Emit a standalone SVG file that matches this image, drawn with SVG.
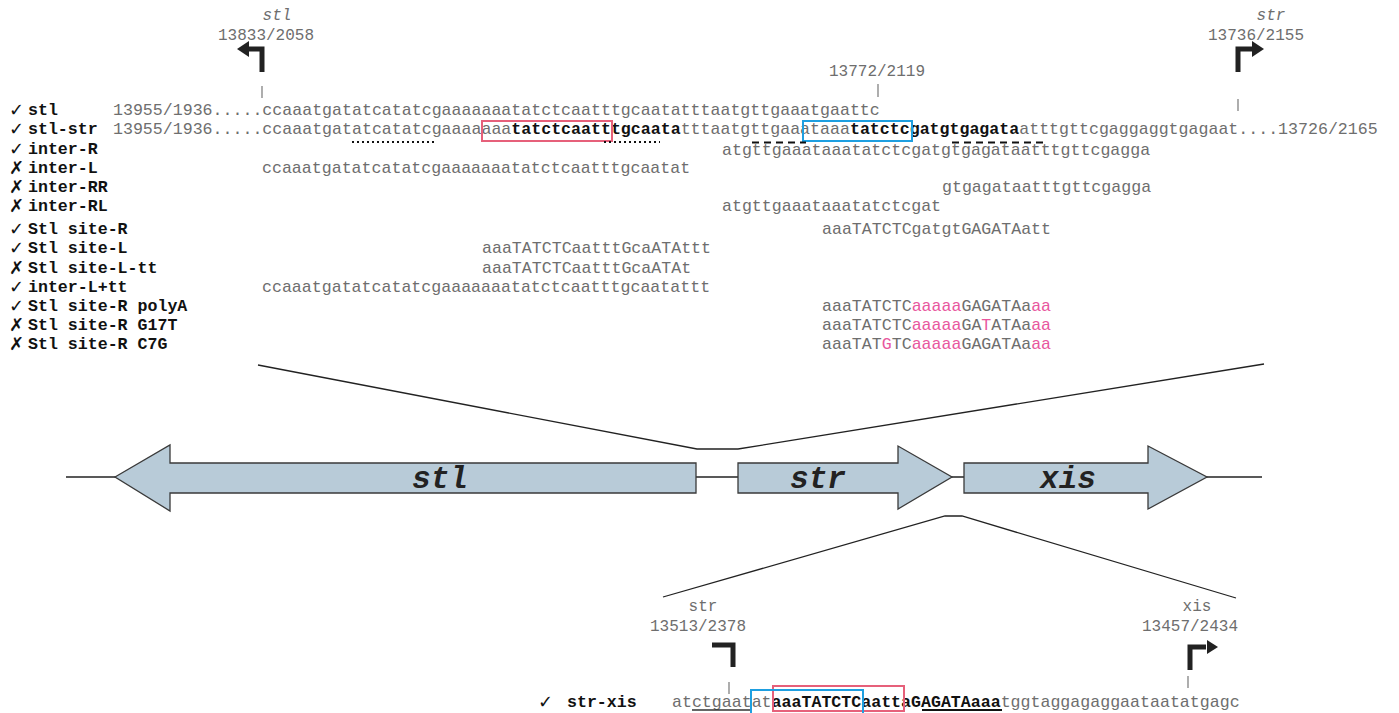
<svg xmlns="http://www.w3.org/2000/svg" width="1399" height="713" viewBox="0 0 1399 713">
  <defs>
    <style>
      .seq { font-family: "Liberation Mono", "Courier New", monospace; font-size: 16.6px; fill: #6e6e6e; }
      .b { font-weight: bold; fill: #111; }
      .pk { fill: #e8579e; }
      .lbl { font-family: "Liberation Mono", "Courier New", monospace; font-size: 16.6px; font-weight: bold; fill: #111; }
      .mk { font-family: "DejaVu Sans", sans-serif; font-size: 18px; fill: #111; }
      .pos { font-family: "Liberation Mono", "Courier New", monospace; font-size: 16px; fill: #6e6e6e; text-anchor: middle; }
      .it { font-style: italic; }
      .tick { stroke: #777; stroke-width: 1.2; }
      .gene { fill: #b8cbd8; stroke: #3a3a3a; stroke-width: 1.3; }
      .gname { font-family: "Liberation Mono", "Courier New", monospace; font-size: 31px; font-weight: bold; font-style: italic; fill: #222; text-anchor: middle; }
      .zoom { fill: none; stroke: #222; stroke-width: 1.3; }
      .prom { fill: none; stroke: #222; stroke-width: 5; stroke-linejoin: miter; }
      .redbox { fill: none; stroke: #e6607a; stroke-width: 2; }
      .bluebox { fill: none; stroke: #1e9fe0; stroke-width: 2; }
      .dot { stroke: #111; stroke-width: 2; stroke-dasharray: 2 3; }
      .dash { stroke: #111; stroke-width: 2; stroke-dasharray: 7 5; }
      .ul { stroke: #333; stroke-width: 1.3; }
      .ulb { stroke: #111; stroke-width: 2; }
    </style>
  </defs>

  <!-- promoter marks above the intergenic sequence -->
  <g id="promoter-stl">
    <text class="pos it" x="277" y="20">stl</text>
    <text class="pos" x="266" y="40">13833/2058</text>
    <polyline class="prom" points="262,72 262,49 248,49"/>
    <polygon points="237,49 249,41 249,57" fill="#222"/>
    <line class="tick" x1="262" y1="86" x2="262" y2="98"/>
  </g>
  <g id="promoter-str">
    <text class="pos it" x="1271" y="20">str</text>
    <text class="pos" x="1256" y="40">13736/2155</text>
    <polyline class="prom" points="1238,72 1238,49 1252,49"/>
    <polygon points="1264,49 1252,41 1252,57" fill="#222"/>
    <line class="tick" x1="1238" y1="99" x2="1238" y2="111"/>
  </g>
  <g id="mark-13772">
    <text class="pos" x="877" y="76">13772/2119</text>
    <line class="tick" x1="878" y1="84" x2="878" y2="97"/>
  </g>

  <!-- tested sequences -->
  <g id="row-stl">
    <text class="mk" x="9" y="116">✓</text>
    <text class="lbl" x="28" y="115">stl</text>
    <text class="seq" x="113" y="115">13955/1936.....ccaaatgatatcatatcgaaaaaaatatctcaatttgcaatatttaatgttgaaatgaattc</text>
  </g>
  <g id="row-stl-str">
    <text class="mk" x="9" y="135">✓</text>
    <text class="lbl" x="28" y="134">stl-str</text>
    <text class="seq" x="113" y="134">13955/1936.....ccaaatgatatcatatcgaaaaaaa<tspan class="b">tatctcaatttgcaata</tspan>tttaatgttgaaataaa<tspan class="b">tatctcgatgtgagata</tspan>atttgttcgaggaggtgagaat....13726/2165</text>
    <rect class="redbox" x="482" y="121" width="130" height="20"/>
    <rect class="bluebox" x="803" y="121" width="109" height="20"/>
    <line class="dot" x1="352" y1="142" x2="434" y2="142"/>
    <line class="dot" x1="604" y1="142" x2="660" y2="142"/>
    <line class="dash" x1="752" y1="142.5" x2="806" y2="142.5"/>
    <line class="dash" x1="952" y1="142.5" x2="1044" y2="142.5"/>
  </g>
  <g id="row-inter-R">
    <text class="mk" x="9" y="155">✓</text>
    <text class="lbl" x="28" y="154">inter-R</text>
    <text class="seq" x="722" y="155">atgttgaaataaatatctcgatgtgagataatttgttcgagga</text>
  </g>
  <g id="row-inter-L">
    <text class="mk" x="9" y="174">✗</text>
    <text class="lbl" x="28" y="173">inter-L</text>
    <text class="seq" x="262" y="173">ccaaatgatatcatatcgaaaaaaatatctcaatttgcaatat</text>
  </g>
  <g id="row-inter-RR">
    <text class="mk" x="9" y="193">✗</text>
    <text class="lbl" x="28" y="192">inter-RR</text>
    <text class="seq" x="942" y="192">gtgagataatttgttcgagga</text>
  </g>
  <g id="row-inter-RL">
    <text class="mk" x="9" y="212">✗</text>
    <text class="lbl" x="28" y="211">inter-RL</text>
    <text class="seq" x="722" y="211">atgttgaaataaatatctcgat</text>
  </g>
  <g id="row-site-R">
    <text class="mk" x="9" y="235">✓</text>
    <text class="lbl" x="28" y="234">Stl site-R</text>
    <text class="seq" x="822" y="234">aaaTATCTCgatgtGAGATAatt</text>
  </g>
  <g id="row-site-L">
    <text class="mk" x="9" y="254">✓</text>
    <text class="lbl" x="28" y="253">Stl site-L</text>
    <text class="seq" x="482" y="253">aaaTATCTCaatttGcaATAttt</text>
  </g>
  <g id="row-site-L-tt">
    <text class="mk" x="9" y="274">✗</text>
    <text class="lbl" x="28" y="273">Stl site-L-tt</text>
    <text class="seq" x="482" y="273">aaaTATCTCaatttGcaATAt</text>
  </g>
  <g id="row-inter-L-tt">
    <text class="mk" x="9" y="293">✓</text>
    <text class="lbl" x="28" y="292">inter-L+tt</text>
    <text class="seq" x="262" y="292">ccaaatgatatcatatcgaaaaaaatatctcaatttgcaatattt</text>
  </g>
  <g id="row-polyA">
    <text class="mk" x="9" y="312">✓</text>
    <text class="lbl" x="28" y="311">Stl site-R polyA</text>
    <text class="seq" x="822" y="311">aaaTATCTC<tspan class="pk">aaaaa</tspan>GAGATAa<tspan class="pk">aa</tspan></text>
  </g>
  <g id="row-G17T">
    <text class="mk" x="9" y="331">✗</text>
    <text class="lbl" x="28" y="330">Stl site-R G17T</text>
    <text class="seq" x="822" y="330">aaaTATCTC<tspan class="pk">aaaaa</tspan>GA<tspan class="pk">T</tspan>ATAa<tspan class="pk">aa</tspan></text>
  </g>
  <g id="row-C7G">
    <text class="mk" x="9" y="350">✗</text>
    <text class="lbl" x="28" y="349">Stl site-R C7G</text>
    <text class="seq" x="822" y="349">aaaTAT<tspan class="pk">G</tspan>TC<tspan class="pk">aaaaa</tspan>GAGATAa<tspan class="pk">aa</tspan></text>
  </g>

  <!-- expansion lines and backbone -->
  <g id="connectors">
    <polyline class="zoom" points="258,365 697,449 738,449 1264,364"/>
    <polyline class="zoom" points="663,597 945,516 962,516 1236,598"/>
    <line class="zoom" x1="66" y1="477" x2="1262" y2="477"/>
  </g>

  <!-- gene map -->
  <g id="gene-stl">
    <polygon class="gene" points="115,477 170,445 170,463 696,463 696,493 170,493 170,511"/>
    <text class="gname" x="440" y="488">stl</text>
  </g>
  <g id="gene-str">
    <polygon class="gene" points="738,463 898,463 898,446 952,477 898,509 898,493 738,493"/>
    <text class="gname" x="818" y="488">str</text>
  </g>
  <g id="gene-xis">
    <polygon class="gene" points="964,463 1148,463 1148,446 1207,477 1148,509 1148,493 964,493"/>
    <text class="gname" x="1068" y="488">xis</text>
  </g>

  <!-- str/xis intergenic region -->
  <g id="promoter-str-end">
    <text class="pos" x="703" y="611">str</text>
    <text class="pos" x="698" y="631">13513/2378</text>
    <polyline class="prom" points="712,645 733,645 733,667"/>
    <line class="tick" x1="729" y1="682" x2="729" y2="694"/>
  </g>
  <g id="promoter-xis">
    <text class="pos" x="1197" y="611">xis</text>
    <text class="pos" x="1190" y="631">13457/2434</text>
    <polyline class="prom" points="1190,670 1190,647 1206,647"/>
    <polygon points="1218,647 1207,640 1207,654" fill="#222"/>
    <line class="tick" x1="1188" y1="676" x2="1188" y2="688"/>
  </g>
  <g id="row-str-xis">
    <text class="mk" x="538" y="708">✓</text>
    <text class="lbl" x="567" y="707">str-xis</text>
    <text class="seq" x="672" y="707">atctgaatat<tspan class="b">aaaTATCTCaattaGAGATAaaa</tspan>tggtaggagaggaataatatgagc</text>
    <line class="ul" x1="692" y1="710" x2="752" y2="710"/>
    <line class="ulb" x1="922" y1="710" x2="1002" y2="710"/>
    <rect class="redbox" x="773" y="686" width="131" height="25"/>
    <rect class="bluebox" x="751" y="690" width="112" height="30"/>
  </g>
</svg>
